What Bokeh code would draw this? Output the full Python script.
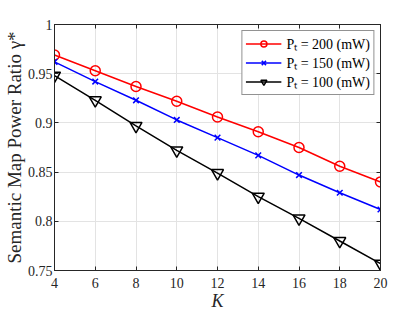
from bokeh.plotting import figure
from bokeh.models import (Range1d, LinearAxis, FixedTicker, Legend, LegendItem,
                          CustomJSTickFormatter)
from bokeh.embed import file_html
from bokeh.resources import INLINE

K = [4, 6, 8, 10, 12, 14, 16, 18, 20]
gamma_200 = [0.969, 0.953, 0.937, 0.922, 0.906, 0.891, 0.875, 0.856, 0.840]
gamma_150 = [0.962, 0.942, 0.923, 0.903, 0.885, 0.867, 0.847, 0.829, 0.812]
gamma_100 = [0.948, 0.923, 0.897, 0.872, 0.849, 0.825, 0.803, 0.780, 0.757]
labels = ["Pₜ = 200 (mW)", "Pₜ = 150 (mW)", "Pₜ = 100 (mW)"]
x_ticks = [4, 6, 8, 10, 12, 14, 16, 18, 20]
y_ticks = [0.75, 0.8, 0.85, 0.9, 0.95, 1.0]
y_tick_labels = ["0.75", "0.8", "0.85", "0.9", "0.95", "1"]

FONT = "Liberation Serif"
AX = "#262626"

p = figure(frame_width=326, frame_height=246, output_backend="svg", toolbar_location=None,
           x_range=Range1d(4, 20), y_range=Range1d(0.75, 1.0),
           min_border_left=54, min_border_right=24, min_border_top=24,
           min_border_bottom=30)
p.outline_line_color = AX
p.outline_line_width = 1
p.background_fill_color = "white"
p.border_fill_color = "white"

for ax in (p.xaxis[0], p.yaxis[0]):
    ax.major_tick_in = 4
    ax.major_tick_out = 0
    ax.minor_tick_in = 0
    ax.minor_tick_out = 0
    ax.axis_line_color = AX
    ax.major_tick_line_color = AX
    ax.major_label_text_font = FONT
    ax.major_label_text_font_size = "14px"
    ax.major_label_text_color = AX
    ax.axis_label_text_font = FONT
    ax.axis_label_text_color = AX
    ax.axis_label_text_font_style = "normal"

p.xaxis[0].major_label_standoff = 7
p.yaxis[0].major_label_standoff = 2
p.xaxis[0].ticker = FixedTicker(ticks=x_ticks)
p.yaxis[0].ticker = FixedTicker(ticks=y_ticks)
p.yaxis[0].major_label_overrides = {t: s for t, s in zip(y_ticks, y_tick_labels)}
p.xaxis[0].axis_label = "K"
p.xaxis[0].axis_label_text_font_style = "italic"
p.xaxis[0].axis_label_text_font_size = "18px"
p.xaxis[0].axis_label_standoff = 0
p.yaxis[0].axis_label = "Semantic Map Power Ratio γ*"
p.yaxis[0].axis_label_text_font_size = "19px"
p.yaxis[0].axis_label_standoff = 0

blank = CustomJSTickFormatter(code="return '';")
right = LinearAxis(ticker=FixedTicker(ticks=y_ticks), formatter=blank,
                   major_tick_in=4, major_tick_out=0, minor_tick_in=0, minor_tick_out=0,
                   axis_line_color=AX, major_tick_line_color=AX, major_label_standoff=0)
top = LinearAxis(ticker=FixedTicker(ticks=x_ticks), formatter=blank,
                 major_tick_in=4, major_tick_out=0, minor_tick_in=0, minor_tick_out=0,
                 axis_line_color=AX, major_tick_line_color=AX, major_label_standoff=0)
p.add_layout(right, "right")
p.add_layout(top, "above")

p.xgrid.ticker = FixedTicker(ticks=x_ticks)
p.ygrid.ticker = FixedTicker(ticks=y_ticks)
p.grid.grid_line_color = "#e3e3e3"
p.grid.grid_line_width = 1

r1 = p.line(K, gamma_200, line_color="red", line_width=1.5)
m1 = p.scatter(K, gamma_200, marker="circle", size=10, line_color="red",
               fill_color=None, line_width=1.5)
r2 = p.line(K, gamma_150, line_color="blue", line_width=1.5)
m2 = p.scatter(K, gamma_150, marker="x", size=8, line_color="blue", line_width=1.5)
r3 = p.line(K, gamma_100, line_color="black", line_width=1.5)
m3 = p.scatter(K, gamma_100, marker="inverted_triangle", size=12, line_color="black",
               fill_color=None, line_width=1.5)

legend = Legend(items=[LegendItem(label=labels[0], renderers=[r1, m1]),
                       LegendItem(label=labels[1], renderers=[r2, m2]),
                       LegendItem(label=labels[2], renderers=[r3, m3])],
                location="top_right")
legend.label_text_font = FONT
legend.label_text_font_size = "14px"
legend.label_text_color = "black"
legend.border_line_color = AX
legend.border_line_width = 1
legend.background_fill_alpha = 1
legend.glyph_width = 36
legend.glyph_height = 15
legend.label_height = 15
legend.label_standoff = 5
legend.spacing = 0
legend.padding = 3
legend.margin = 6
p.add_layout(legend)

open("out.html", "w").write(file_html(p, INLINE))
